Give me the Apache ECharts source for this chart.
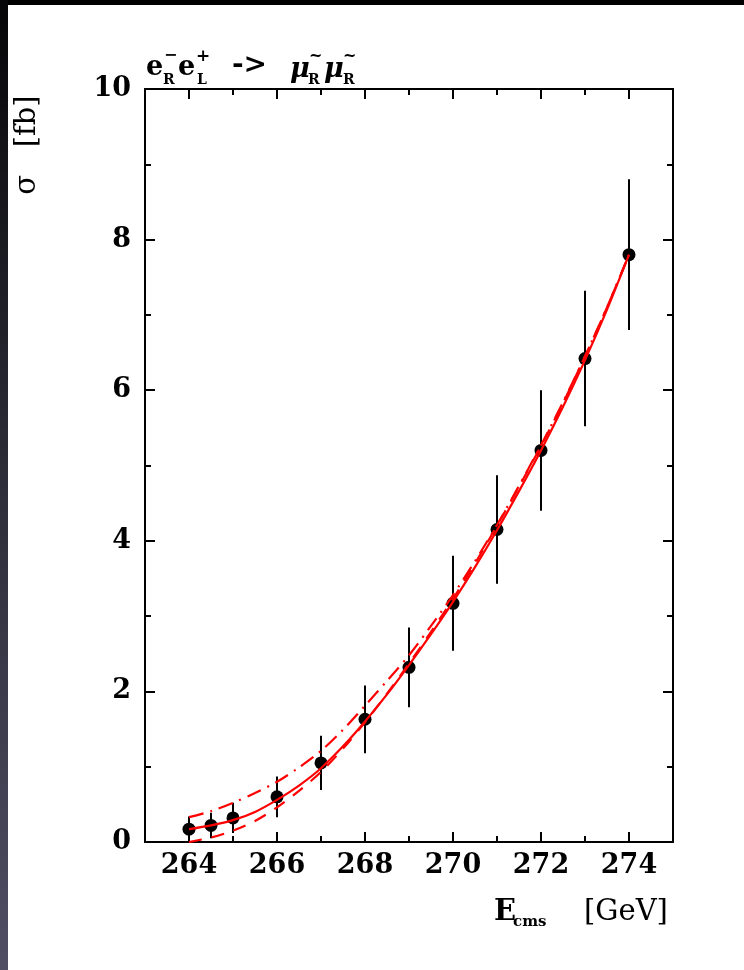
<!DOCTYPE html>
<html>
<head>
<meta charset="UTF-8">
<title>slepton threshold scan</title>
<style>
  body { margin: 0; background: #000; }
  #strip { position: absolute; left: 0; top: 0; width: 8px; height: 970px;
           background: linear-gradient(#060608, #2a2a35 45%, #4f4e63); }
  #panel { position: absolute; left: 8px; top: 5px; width: 736px; height: 965px; background: #fff; }
  #chart { position: absolute; left: 0; top: 0; width: 744px; height: 970px; }
</style>
<script src="https://cdn.jsdelivr.net/npm/echarts@6/dist/echarts.min.js"></script>
</head>
<body>
<div id="strip"></div>
<div id="panel"></div>
<div id="chart"></div>
<script>
// measured points (E_cms in GeV, sigma in fb)
var energies = [264, 264.5, 265, 266, 267, 268, 269, 270, 271, 272, 273, 274];
var sigma    = [0.17, 0.22, 0.32, 0.60, 1.05, 1.63, 2.32, 3.17, 4.15, 5.20, 6.42, 7.80];
var sigmaErr = [0.17, 0.17, 0.20, 0.27, 0.36, 0.45, 0.53, 0.63, 0.72, 0.80, 0.90, 1.00];

// fitted curves
var fitE      = [264, 264.5, 265, 265.5, 266, 266.5, 267, 267.5, 268, 268.5, 269, 269.5, 270, 270.5, 271, 271.5, 272, 272.5, 273, 273.5, 274];
var fitCentral = [0.17, 0.22, 0.29, 0.40, 0.56, 0.75, 0.98, 1.27, 1.60, 1.96, 2.35, 2.76, 3.19, 3.65, 4.14, 4.66, 5.20, 5.78, 6.40, 7.07, 7.80];
var fitUpper   = [0.33, 0.41, 0.52, 0.65, 0.80, 0.99, 1.21, 1.49, 1.81, 2.14, 2.48, 2.87, 3.28, 3.73, 4.21, 4.73, 5.27, 5.84, 6.45, 7.10, 7.80];
var fitLower   = [0.00, 0.06, 0.15, 0.28, 0.46, 0.68, 0.93, 1.24, 1.59, 1.97, 2.37, 2.79, 3.23, 3.70, 4.20, 4.72, 5.26, 5.83, 6.45, 7.10, 7.80];

var xMajor = [264, 266, 268, 270, 272, 274];
var yLabels = [0, 2, 4, 6, 8, 10];

var FONT = 'DejaVu Serif';
var chart = echarts.init(document.getElementById('chart'));

function pairs(xs, ys) {
  return xs.map(function (x, i) { return [x, ys[i]]; });
}

var axisLine = { show: true, lineStyle: { color: '#000', width: 2 } };

function xAx(pos, major, withLabels) {
  return {
    type: 'value', position: pos, min: 263, max: 275,
    interval: major ? undefined : 1,
    axisLine: axisLine,
    axisTick: major
      ? { show: true, inside: true, length: 10, lineStyle: { color: '#000', width: 2 }, customValues: xMajor }
      : { show: true, inside: true, length: 6, lineStyle: { color: '#000', width: 2 } },
    axisLabel: withLabels
      ? { show: true, customValues: xMajor, margin: 10, color: '#000', fontFamily: FONT, fontWeight: 'bold', fontSize: 27 }
      : { show: false },
    splitLine: { show: false }
  };
}

function yAx(pos, withLabels) {
  return {
    type: 'value', position: pos, min: 0, max: 10, interval: 2,
    axisLine: axisLine,
    axisTick: { show: true, inside: true, length: 10, lineStyle: { color: '#000', width: 2 } },
    minorTick: { show: true, splitNumber: 2, length: 6, lineStyle: { color: '#000', width: 2 } },
    axisLabel: withLabels
      ? { show: true, margin: 14, color: '#000', fontFamily: FONT, fontWeight: 'bold', fontSize: 27,
          formatter: function (v) { return yLabels.indexOf(v) >= 0 ? String(v) : ''; } }
      : { show: false },
    splitLine: { show: false }
  };
}

function t(text, x, y, size, bold, italic) {
  return {
    type: 'text', x: x, y: y,
    style: { text: text, fill: '#000',
             font: (italic ? 'italic ' : '') + (bold ? 'bold ' : '') + size + 'px "' + FONT + '"',
             textAlign: 'left', textVerticalAlign: 'middle' }
  };
}

var option = {
  animation: false,
  backgroundColor: 'transparent',
  grid: { left: 145, top: 89, right: 71, bottom: 128, containLabel: false },
  xAxis: [xAx('bottom', true, true), xAx('bottom', false, false), xAx('top', true, false), xAx('top', false, false)],
  yAxis: [yAx('left', true), yAx('right', false)],
  graphic: [
    // process label
    t('e', 146, 68, 27, true),
    t('\u2212', 164, 56, 16, true),
    t('R', 163, 80, 14, true),
    t('e', 178, 68, 27, true),
    t('+', 196, 57, 17, true),
    t('L', 197, 80, 14, true),
    t('->', 232, 66, 28, true),
    t('\u03bc', 290, 70, 27, true, true),
    t('~', 309, 57, 16, true),
    t('R', 308, 80, 14, true),
    t('\u03bc', 324, 70, 27, true, true),
    t('~', 343, 57, 16, true),
    t('R', 343, 80, 14, true),
    // x axis title
    t('E', 494, 912, 29, true),
    t('cms', 513, 922, 15, true),
    t('[GeV]', 584, 912, 29, false),
    // y axis title
    {
      type: 'text', x: 27, y: 145, rotation: Math.PI / 2,
      style: { text: '\u03c3   [fb]', fill: '#000', font: '29px "' + FONT + '"',
               textAlign: 'center', textVerticalAlign: 'middle' }
    }
  ],
  series: [
    {
      type: 'custom', name: 'errors', xAxisIndex: 0, yAxisIndex: 0, z: 2,
      encode: { x: 0, y: [1, 2] },
      data: energies.map(function (e, i) {
        return [e, Math.max(0, sigma[i] - sigmaErr[i]), sigma[i] + sigmaErr[i]];
      }),
      renderItem: function (params, api) {
        var lo = api.coord([api.value(0), api.value(1)]);
        var hi = api.coord([api.value(0), api.value(2)]);
        return { type: 'line', shape: { x1: lo[0], y1: lo[1], x2: hi[0], y2: hi[1] },
                 style: { stroke: '#000', lineWidth: 2 } };
      }
    },
    {
      type: 'scatter', name: 'data', xAxisIndex: 0, yAxisIndex: 0, z: 3,
      symbol: 'circle', symbolSize: 13, itemStyle: { color: '#000', opacity: 1 },
      data: pairs(energies, sigma)
    },
    {
      type: 'line', name: 'upper', xAxisIndex: 0, yAxisIndex: 0, z: 4,
      smooth: 0.3, showSymbol: false,
      lineStyle: { color: '#ff0000', width: 2.2, type: [15, 7, 2, 7] },
      data: pairs(fitE, fitUpper)
    },
    {
      type: 'line', name: 'lower', xAxisIndex: 0, yAxisIndex: 0, z: 4,
      smooth: 0.3, showSymbol: false,
      lineStyle: { color: '#ff0000', width: 2.2, type: [13, 10] },
      data: pairs(fitE, fitLower)
    },
    {
      type: 'line', name: 'fit', xAxisIndex: 0, yAxisIndex: 0, z: 5,
      smooth: 0.3, showSymbol: false,
      lineStyle: { color: '#ff0000', width: 2.2, type: 'solid' },
      data: pairs(fitE, fitCentral)
    }
  ]
};
chart.setOption(option);
</script>
</body>
</html>
